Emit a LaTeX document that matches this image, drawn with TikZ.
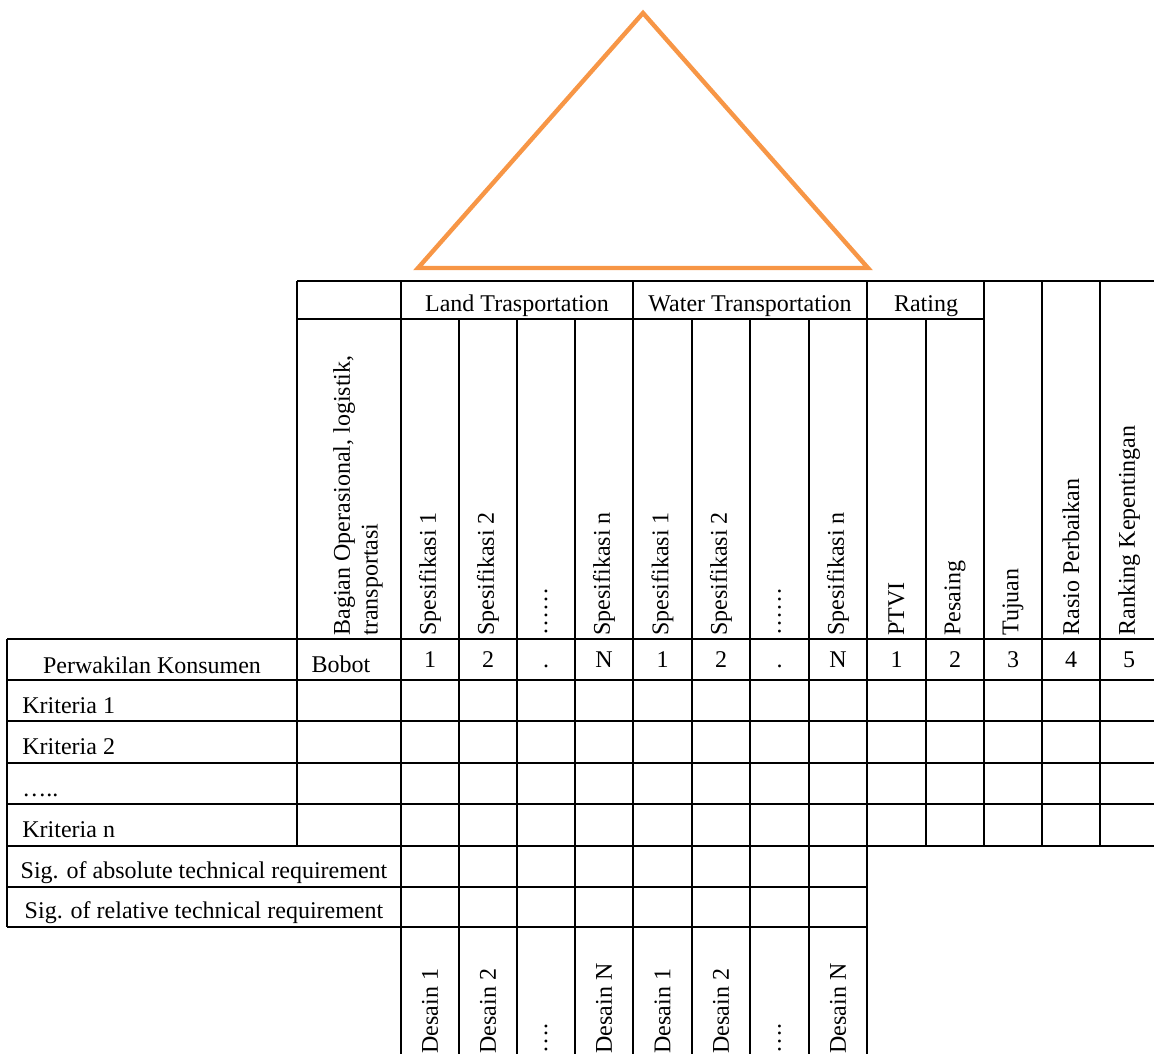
\documentclass[tikz,border=0pt]{standalone}
\usepackage{fontspec}
\setmainfont{Liberation Serif}
\usepackage{tikz}
\definecolor{roofcolor}{HTML}{F79646}

\begin{document}
\begin{tikzpicture}[x=0.5pt,y=-0.5pt,
  rule/.style={line width=1.2pt,black},
  txt/.style={font=\fontsize{12}{13.8}\selectfont,inner sep=0pt},
  uptxt/.style={txt,rotate=90,anchor=west},
  roof/.style={line width=2.2pt,draw=roofcolor,line join=miter}]
 \useasboundingbox (0,0) rectangle (1154,1053);

 % roof
 \draw[roof] (643,13) -- (868,268) -- (418,268) -- cycle;

 % horizontal rules
 \draw[rule] (297,281) -- (1160,281);
 \draw[rule] (297,319) -- (984,319);
 \foreach \y in {639,680,721,763,804,846}
   \draw[rule] (7,\y) -- (1160,\y);
 \foreach \y in {887,927}
   \draw[rule] (7,\y) -- (867,\y);

 % vertical rules
 \draw[rule] (7,639) -- (7,927);
 \draw[rule] (297,281) -- (297,846);
 \foreach \x in {401,633,867}
   \draw[rule] (\x,281) -- (\x,1060);
 \foreach \x in {459,517,575,692,750,809}
   \draw[rule] (\x,319) -- (\x,1060);
 \draw[rule] (926,319) -- (926,846);
 \foreach \x in {984,1042,1100}
   \draw[rule] (\x,281) -- (\x,846);

 % group heads
 \draw (517,311.5) node[txt,anchor=base] (land) {Land Trasportation};
 \draw (750,311.5) node[txt,anchor=base] (water) {Water Transportation};
 \draw (926,312) node[txt,anchor=base] (rating) {Rating};

 % column heads
 \draw (358,636) node[uptxt,align=left] (bagian) {Bagian Operasional, logistik,\\transportasi};
 \foreach \x/\t [count=\i] in {430/Spesifikasi 1,488/Spesifikasi 2,546/……,604/Spesifikasi n,
     662.5/Spesifikasi 1,721/Spesifikasi 2,779.5/……,838/Spesifikasi n,
     896.5/PTVI,955/Pesaing,1013/Tujuan,1071/Rasio Perbaikan,1129/Ranking Kepentingan}
   \draw (\x,636) node[uptxt] (head\i) {\t};

 % numbering row
 \draw (152,673) node[txt,anchor=base] (wakil) {Perwakilan Konsumen};
 \draw (341,672) node[txt,anchor=base] (bobot) {Bobot};
 \foreach \x/\t [count=\i] in {430/1,488/2,546/.,604/N,662.5/1,721/2,779.5/.,838/N,
     896.5/1,955/2,1013/3,1071/4,1129/5}
   \draw (\x,667) node[txt,anchor=base] (num\i) {\t};

 % criteria
 \draw (22,713) node[txt,anchor=base west] (krit1) {Kriteria 1};
 \draw (22,754) node[txt,anchor=base west] (krit2) {Kriteria 2};
 \draw (22,796) node[txt,anchor=base west] (kritdots) {…..};
 \draw (22,837) node[txt,anchor=base west] (kritn) {Kriteria n};
 \draw (204,878) node[txt,anchor=base] (sigabs) {Sig. of absolute technical requirement};
 \draw (204,918) node[txt,anchor=base] (sigrel) {Sig. of relative technical requirement};

 % designs
 \foreach \x/\t [count=\i] in {430/Desain 1,488/Desain 2,546/….,604/Desain N,
     662.5/Desain 1,721/Desain 2,779.5/….,838/Desain N}
   \draw (\x,1054) node[uptxt] (desain\i) {\t};

\end{tikzpicture}
\end{document}
